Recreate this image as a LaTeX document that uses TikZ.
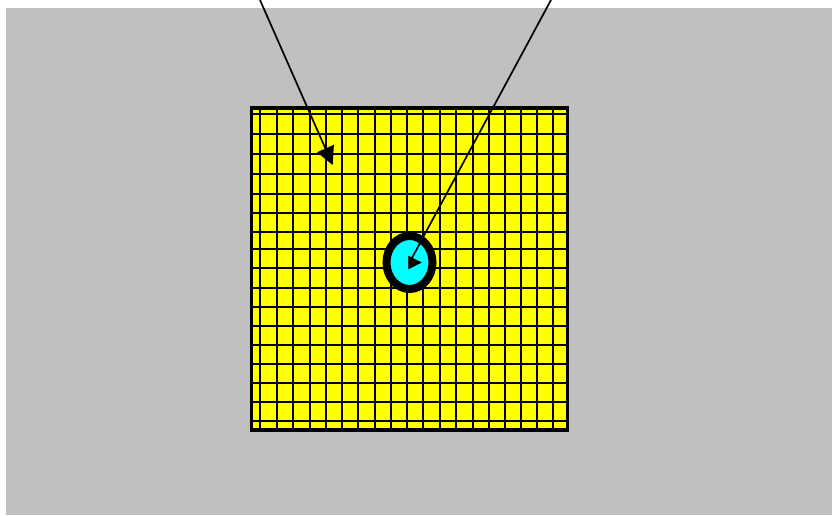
\documentclass[tikz,border=0pt]{standalone}
\usetikzlibrary{arrows.meta,shapes.geometric}
\definecolor{bggray}{RGB}{192,192,192}
\definecolor{gridyellow}{RGB}{255,255,0}
\definecolor{targetcyan}{RGB}{0,255,255}
\begin{document}
\begin{tikzpicture}[x=1pt,y=-1pt,
  gridline/.style={black, line width=2.1pt},
  arrowline/.style={black, line width=1.7pt},
  board/.style={fill=gridyellow, rectangle, inner sep=0pt, outer sep=0pt, anchor=north west, minimum width=315.6pt, minimum height=322pt},
  targetnode/.style={ellipse, draw=black, fill=targetcyan, line width=8pt, inner sep=0pt, minimum width=46pt, minimum height=53pt}]
\useasboundingbox (0,0) rectangle (832,515);
\fill[bggray] (6,8) rectangle (832,515);
% board background
\node[board] (board) at (251.7,108) {};
% grid
\foreach \gx in {260,276.7,293.3,310,326,341.7,358.3,375,391,406.7,423.3,440,456,472.7,489.3,505,520.7,537.3,553.3} {
  \draw[gridline] (\gx,108) -- (\gx,430);
}
\foreach \gy in {113.8,134.3,154.3,173.7,193.7,212.7,231.7,249.3,268.3,287.7,306.7,326,345,364.3,382.7,401.7,420.7} {
  \draw[gridline] (251.7,\gy) -- (567.3,\gy);
}
% board border
\draw[black, line width=3.2pt] (board.north west) rectangle (board.south east);
% target
\node[targetnode] (target) at (409.5,262.5) {};
% arrows
\coordinate (s1) at (260,0);
\coordinate (p1) at (332.7,165);
\coordinate (s2) at (551,0);
\draw[arrowline, -{Triangle[length=18pt,width=18pt]}] (s1) -- (p1);
\draw[arrowline] (s2) -- (target.center);
\draw[line width=0.2pt, -{Triangle[length=13.4pt,width=13.4pt]}] ([xshift=-1.5pt]target.center) -- ([xshift=12.2pt]target.center);
\end{tikzpicture}
\end{document}
